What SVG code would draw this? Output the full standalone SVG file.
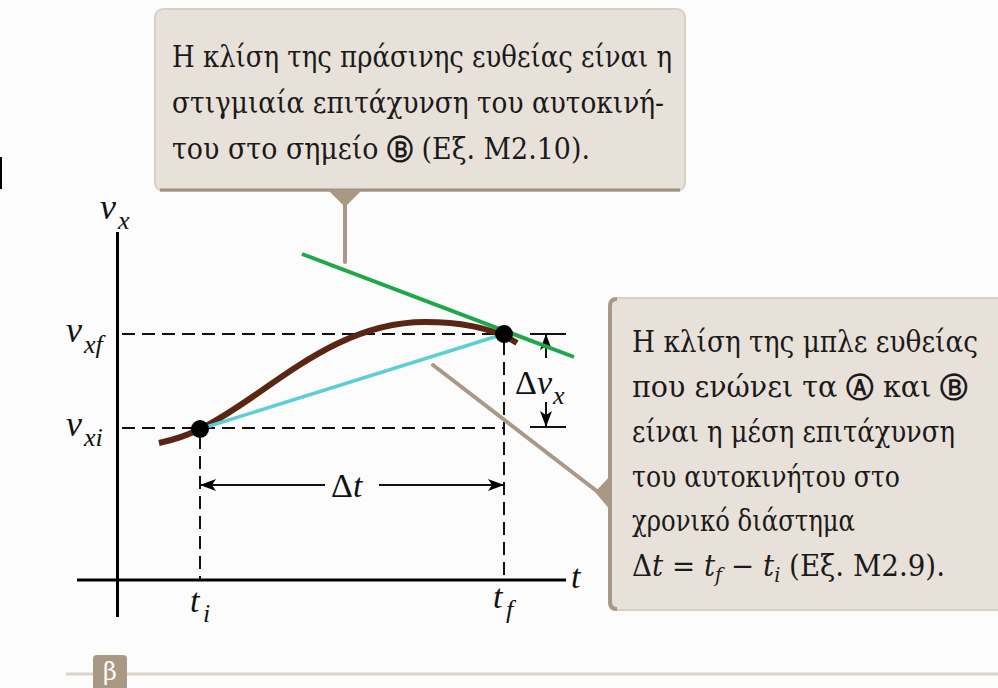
<svg xmlns="http://www.w3.org/2000/svg" width="998" height="688" viewBox="0 0 998 688">
<defs>
<style>
.box{fill:#e8e1d9;stroke:#d8d0c6;stroke-width:2}
.tan{stroke:#a99883;fill:none;stroke-width:4;stroke-linecap:round}
.tanf{fill:#a99883}
.txt{font-family:"DejaVu Serif","Liberation Serif",serif;font-size:29px;fill:#1a1a1a}
.circ{font-family:"DejaVu Sans",sans-serif;font-weight:bold;font-size:28px}
.math{font-family:"Liberation Serif","DejaVu Serif",serif;font-style:italic;fill:#111}
.ax{stroke:#000;stroke-width:3;fill:none}
.dash{stroke:#111;stroke-width:2;stroke-dasharray:13 7;fill:none}
.thin{stroke:#111;stroke-width:2;fill:none}
</style>
<marker id="ah" viewBox="0 0 16 12" refX="15" refY="6" markerWidth="16" markerHeight="12" markerUnits="userSpaceOnUse" orient="auto">
<path d="M0,0 L16,6 L0,12 L4,6 Z" fill="#000"/>
</marker>
</defs>
<rect width="998" height="688" fill="#fcfcfc"/>
<rect x="0" y="157" width="2" height="32" fill="#000"/>

<g id="bottom-bar">
<line x1="66" y1="674" x2="998" y2="674" stroke="#dcd3c9" stroke-width="3"/>
<rect x="93" y="655" width="34" height="40" rx="4" fill="#a99883"/>
<text x="110" y="680" text-anchor="middle" font-family="DejaVu Serif,serif" font-size="24" fill="#fff">β</text>
</g>

<g id="axes">
<line class="ax" x1="117.5" y1="232" x2="117.5" y2="617"/>
<line class="ax" x1="77" y1="580" x2="566" y2="580"/>
<text class="math" x="571" y="588" font-size="34">t</text>
<text class="math" x="100" y="219" font-size="36">v</text>
<text class="math" x="118" y="229" font-size="26">x</text>
<text class="math" x="66" y="342" font-size="36">v</text>
<text class="math" x="84" y="353" font-size="26">xf</text>
<text class="math" x="66" y="436" font-size="36">v</text>
<text class="math" x="84" y="446" font-size="26">xi</text>
<text class="math" x="190" y="612" font-size="34">t</text>
<text class="math" x="203" y="622" font-size="26">i</text>
<text class="math" x="493" y="608" font-size="34">t</text>
<text class="math" x="506" y="618" font-size="26">f</text>
</g>

<g id="connectors">
<line class="dash" x1="122" y1="334" x2="497" y2="334"/>
<line class="dash" x1="122" y1="428" x2="504" y2="428"/>
<line class="dash" x1="200" y1="436" x2="200" y2="579"/>
<line class="dash" x1="504" y1="342" x2="504" y2="579"/>
<line class="thin" x1="530" y1="334" x2="566" y2="334"/>
<line class="thin" x1="530" y1="427" x2="566" y2="427"/>
<line class="thin" x1="546" y1="358" x2="546" y2="335" marker-end="url(#ah)"/>
<line class="thin" x1="546" y1="402" x2="546" y2="426" marker-end="url(#ah)"/>
<line class="thin" x1="325" y1="485" x2="201" y2="485" marker-end="url(#ah)"/>
<line class="thin" x1="379" y1="485" x2="503" y2="485" marker-end="url(#ah)"/>
<line class="tan" x1="345" y1="204" x2="345" y2="262"/>
<line class="tan" x1="433" y1="365" x2="598" y2="492"/>
</g>

<g id="labels">
<text class="math" x="331" y="497" font-size="34"><tspan font-style="normal">Δ</tspan>t</text>
<text class="math" x="515" y="394" font-size="34"><tspan font-style="normal">Δ</tspan>v</text>
<text class="math" x="553" y="404" font-size="26">x</text>
</g>

<g id="curves">
<path d="M159,443 C178,439 190,434 200,429 C265,398 330,322 425,322 C465,322 495,329 517,343" fill="none" stroke="#5a2614" stroke-width="6"/>
<line x1="302" y1="254" x2="574" y2="357" stroke="#1fa84a" stroke-width="4"/>
<line x1="200" y1="429" x2="504" y2="334" stroke="#5ccfd4" stroke-width="3.5"/>
<circle id="pointA" cx="200" cy="429" r="9" fill="#000"/>
<circle id="pointB" cx="504" cy="334" r="9" fill="#000"/>
</g>

<g id="callout-top">
<rect class="box" x="155" y="9" width="530" height="182" rx="8"/>
<line x1="160" y1="190" x2="680" y2="190" stroke="#a29180" stroke-width="3"/>
<polygon class="tanf" points="328,190 362,190 345,207"/>
<text class="txt" x="172" y="67" textLength="500" lengthAdjust="spacingAndGlyphs">Η κλίση της πράσινης ευθείας είναι η</text>
<text class="txt" x="172" y="113" textLength="492" lengthAdjust="spacingAndGlyphs">στιγμιαία επιτάχυνση του αυτοκινή-</text>
<text class="txt" x="172" y="159" textLength="418" lengthAdjust="spacingAndGlyphs">του στο σημείο <tspan class="circ">Ⓑ</tspan> (Εξ. Μ2.10).</text>
</g>

<g id="callout-right">
<path class="box" d="M617,298 H999 V610 H617 Q609,610 609,602 V306 Q609,298 617,298 Z"/>
<path d="M617,299 Q610,299 610,306 L610,602 Q610,609 617,609" fill="none" stroke="#a99883" stroke-width="4"/>
<polygon class="tanf" points="595,492 611,475 611,511"/>
<text class="txt" x="632" y="352" font-size="27.5" textLength="346" lengthAdjust="spacingAndGlyphs">Η κλίση της μπλε ευθείας</text>
<text class="txt" x="632" y="397" textLength="336" lengthAdjust="spacingAndGlyphs">που ενώνει τα <tspan class="circ">Ⓐ</tspan> και <tspan class="circ">Ⓑ</tspan></text>
<text class="txt" x="632" y="442" textLength="323" lengthAdjust="spacingAndGlyphs">είναι η μέση επιτάχυνση</text>
<text class="txt" x="632" y="487" textLength="268" lengthAdjust="spacingAndGlyphs">του αυτοκινήτου στο</text>
<text class="txt" x="632" y="531" textLength="223" lengthAdjust="spacingAndGlyphs">χρονικό διάστημα</text>
<text class="txt" x="632" y="576" textLength="313" lengthAdjust="spacingAndGlyphs">Δ<tspan font-style="italic">t</tspan> = <tspan font-style="italic">t</tspan><tspan font-style="italic" font-size="20" dy="6">f</tspan><tspan dy="-6"> − </tspan><tspan font-style="italic">t</tspan><tspan font-style="italic" font-size="20" dy="6">i</tspan><tspan dy="-6"> (Εξ. Μ2.9).</tspan></text>
</g>
</svg>
